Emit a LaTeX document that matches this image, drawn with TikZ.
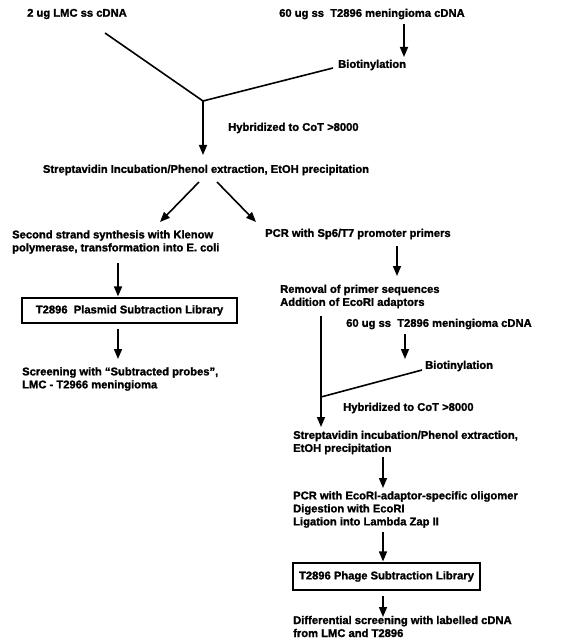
\documentclass[tikz,border=0pt]{standalone}
\usepackage{fontspec}
\setmainfont{Liberation Sans}[BoldFeatures={FakeBold=1.5}]
\usetikzlibrary{arrows.meta}
\begin{document}
\begin{tikzpicture}[x=1pt,y=-1pt,
  txt/.style={inner sep=0pt, font=\fontsize{11.2}{13}\selectfont\bfseries, align=left},
  ln/.style={line width=1.6pt},
  arr/.style={line width=1.6pt, -{Triangle[length=10pt,width=8pt]}},
  box/.style={draw, line width=1.1pt, inner sep=0pt, font=\fontsize{11.2}{13}\selectfont\bfseries}]
\useasboundingbox (0,0) rectangle (565,639);
% top
\node[txt, anchor=west] (lmc) at (27,14) {2 ug LMC ss cDNA};
\node[txt, anchor=west] (tA) at (279,14) {60 ug ss\ \ T2896 meningioma cDNA};
\node[txt, anchor=west] (bioA) at (338,65) {Biotinylation};
\node[txt, anchor=west] (hybA) at (228,128) {Hybridized to CoT >8000};
\node[txt] (strepA) at (206,170) {Streptavidin Incubation/Phenol extraction, EtOH precipitation};
\coordinate (lmcE) at (105,33);
\coordinate (bioAE) at (333,68);
\coordinate (jA) at (203,101);
\coordinate (tAs) at (404,24);
\coordinate (bioAn) at (404,57);
\coordinate (strepAtop) at (203,155);
\draw[arr] (tAs) -- (bioAn);
\draw[ln, line join=miter] (lmcE) -- (jA) -- (bioAE);
\draw[arr] (jA) -- (strepAtop);
% split
\node[txt, anchor=west] (second) at (12,242) {Second strand synthesis with Klenow\\polymerase, transformation into E. coli};
\node[txt, anchor=west] (pcrA) at (265,234) {PCR with Sp6/T7 promoter primers};
\coordinate (sL) at (199,182);
\coordinate (sLe) at (160,222);
\coordinate (sR) at (217,182);
\coordinate (sRe) at (256,222);
\draw[arr] (sL) -- (sLe);
\draw[arr] (sR) -- (sRe);
% left branch
\node[box, minimum width=215pt, minimum height=25pt] (plasmid) at (129.5,310.5) {T2896\ \ Plasmid Subtraction Library};
\node[txt, anchor=west] (screen) at (22,379) {Screening with ``Subtracted probes'',\\LMC - T2966 meningioma};
\coordinate (pa) at (118,263);
\coordinate (pa2) at (118,329);
\coordinate (pa2e) at (118,359);
\draw[arr] (pa) -- ([yshift=1pt]plasmid.north -| pa);
\draw[arr] (pa2) -- (pa2e);
% right branch
\node[txt, anchor=west] (removal) at (280,296.5) {Removal of primer sequences\\Addition of EcoRI adaptors};
\coordinate (pb) at (397,246);
\coordinate (pbe) at (397,276);
\draw[arr] (pb) -- (pbe);
\node[txt, anchor=west] (tB) at (346,324) {60 ug ss\ \ T2896 meningioma cDNA};
\node[txt, anchor=west] (bioB) at (425,366) {Biotinylation};
\node[txt, anchor=west] (hybB) at (343,408) {Hybridized to CoT >8000};
\coordinate (tBs) at (405,334);
\coordinate (bioBn) at (405,359);
\draw[arr] (tBs) -- (bioBn);
\coordinate (vtop) at (321,316);
\coordinate (jB) at (321,397);
\coordinate (vend) at (321,427);
\coordinate (bioBE) at (422,370);
\draw[ln] (vtop) -- (jB);
\draw[arr] (jB) -- (vend);
\draw[ln] (jB) -- (bioBE);
\node[txt, anchor=west] (strepB) at (293,442.5) {Streptavidin incubation/Phenol extraction,\\EtOH precipitation};
\coordinate (q1) at (383,457);
\coordinate (q1e) at (383,488);
\draw[arr] (q1) -- (q1e);
\node[txt, anchor=west] (pcrB) at (293,509.5) {PCR with EcoRI-adaptor-specific oligomer\\Digestion with EcoRI\\Ligation into Lambda Zap II};
\node[box, minimum width=187pt, minimum height=27pt] (phage) at (386.5,576.5) {T2896 Phage Subtraction Library};
\coordinate (q2) at (383,532);
\draw[arr] (q2) -- ([yshift=1pt]phage.north -| q2);
\coordinate (q3) at (383,596);
\coordinate (q3e) at (383,617);
\draw[arr] (q3) -- (q3e);
\node[txt, anchor=west] (diff) at (293,626.5) {Differential screening with labelled cDNA\\from LMC and T2896};
\end{tikzpicture}
\end{document}
